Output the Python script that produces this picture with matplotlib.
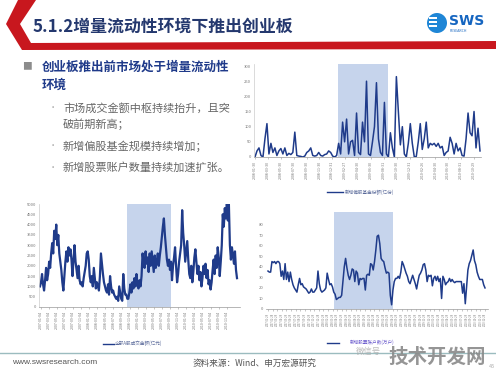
import numpy as np
import matplotlib
matplotlib.use("Agg")
import matplotlib.pyplot as plt
from matplotlib.patches import Polygon, Circle, Rectangle

plt.rcParams['font.family'] = ['Noto Sans CJK SC', 'DejaVu Sans']

# ---------------- data ----------------
fund_labels = ["2008-01-30", "2008-03-30", "2008-05-30", "2008-07-30", "2008-09-30", "2008-11-30",
               "2008-12-31", "2009-02-27", "2009-04-30", "2009-06-30", "2009-08-31", "2009-10-30",
               "2009-12-31", "2010-02-26", "2010-04-30", "2010-06-30", "2010-08-31", "2010-10-29"]
fund_values = [0, 20, 30, 5, 0, 60, 110, 10, 45, 15, 30, 5, 20, 28, 10, 30, 5, 12, 8, 15,
               82, 5, 3, 2, 0, 3, 15, 20, 30, 5, 3, 5, 15, 5, 3, 8, 10, 20, 15, 3,
               0, 5, 45, 10, 115, 50, 125, 10, 50, 55, 5, 145, 15, 8, 115, 50, 250, 10, 5, 50,
               100, 245, 60, 15, 5, 180, 10, 0, 80, 30, 0, 265, 150, 40, 100, 10, 0, 45, 110, 45,
               0, 2, 50, 110, 25, 60, 115, 30, 45, 40, 45, 35, 45, 30, 35, 5, 15, 20, 65, 45,
               10, 45, 20, 30, 5, 3, 60, 145, 80, 70, 150, 30, 95, 20]
fund_shade = (41.7, 66.8)

turn_labels = ["2007-01-04", "2007-03-04", "2007-05-04", "2007-07-04", "2007-09-04", "2007-11-04",
               "2008-01-04", "2008-03-04", "2008-05-04", "2008-07-04", "2008-09-04", "2008-11-04",
               "2009-01-04", "2009-03-04", "2009-05-04", "2009-07-04", "2009-09-04", "2009-11-04",
               "2010-01-04", "2010-03-04", "2010-05-04", "2010-07-04", "2010-09-04", "2010-11-04"]
turn_values_a = [1000, 1200, 1600, 1100, 800, 1300, 1900, 1300, 1600, 2200,
                 1900, 2600, 3100, 2600, 3700, 3300, 4000, 3000, 3500, 2600,
                 2200, 1800, 1200, 800, 1500, 2200, 2700, 2200, 2900, 2500,
                 2800, 2300, 1500, 2300, 3000, 2200, 1800, 1400, 2000, 1300,
                 1100, 1200, 1000, 1400, 1700, 2000, 2600, 2700, 2300, 1500,
                 1200, 1500, 1000, 1900, 1400, 900, 1200, 1000, 800, 1500,
                 2600, 2100, 1600, 1200, 1000, 800, 700, 1100, 600, 1500,
                 1000, 700, 800, 600, 500, 400, 500, 300, 1000, 700,
                 400, 300, 1600, 900, 600, 600, 400]
turn_values_b = [400, 700, 1100, 700, 1200, 900, 1400, 1000, 1600, 1100,
                 900, 1300, 1000, 1500, 2600, 2200, 1900, 2700, 2100, 2400,
                 1700, 2600, 2000, 2700, 2200, 1700, 2500, 1900, 2200, 2600,
                 2000, 2500, 2900, 3400, 3900, 4300, 3500, 2900, 2300, 2000,
                 2300, 1800, 2200, 1300, 2000, 2400, 2900, 2000, 1200, 1600,
                 2200, 2600, 3000, 4700, 3600, 3000, 2200, 2700, 3200, 2300,
                 1600, 1400, 2000, 1200, 1700, 2400, 2800, 2200, 1600, 2000,
                 1300, 1700, 1000, 1400, 2000, 1600, 2100, 1400, 1800, 1100,
                 1300, 850, 1200, 1800, 2300, 1600, 2500, 1900, 2900, 2400,
                 1500, 2200, 3000, 4500, 3900, 4800, 4300, 5000, 4200, 5000,
                 3000, 2300, 2900, 2500, 2100, 2700, 1800, 1400]
turn_shade = (86, 129)

acct_values = [36, 35, 35, 45, 44, 45, 43, 45, 45, 43, 31, 36, 28, 43, 28, 35, 26, 35, 28, 23,
               20, 18, 16, 23, 29, 23, 24, 21, 20, 19, 17, 15, 16, 19, 16, 16, 18, 20, 36, 24,
               18, 16, 17, 18, 20, 34, 28, 23, 24, 21, 16, 14, 9, 10, 11, 11, 13, 26, 40, 48,
               39, 32, 28, 32, 38, 37, 26, 36, 34, 23, 29, 28, 29, 29, 18, 32, 33, 32, 43, 42,
               37, 45, 56, 69, 70, 62, 48, 46, 45, 39, 34, 35, 34, 13, 4, 18, 26, 29, 29, 31,
               29, 35, 45, 42, 38, 34, 31, 26, 24, 28, 32, 28, 24, 19, 26, 32, 34, 37, 42, 43,
               37, 26, 32, 31, 32, 22, 29, 31, 27, 31, 26, 29, 10, 31, 28, 23, 25, 26, 29, 26,
               28, 26, 25, 26, 26, 26, 26, 26, 15, 24, 5, 21, 37, 43, 46, 51, 56, 46, 42, 35,
               31, 28, 28, 28, 23, 20]
acct_shade = (50, 95)
acct_labels = ["%d-%02d-28" % (y, m) for y in (2007, 2008, 2009, 2010) for m in range(1, 13)]

# ---------------- figure ----------------
W, H = 496, 371
fig = plt.figure(figsize=(W / 100, H / 100), dpi=100)
fig.patch.set_facecolor('white')


def rect(l, t, r, b):
    return [l / W, 1 - b / H, (r - l) / W, (b - t) / H]


bg = fig.add_axes([0, 0, 1, 1], zorder=0)
bg.set_xlim(0, W)
bg.set_ylim(H, 0)
bg.axis('off')

RED = '#c8171e'
# header chevron and bar
bg.add_patch(Polygon([(18, 0), (36, 0), (20, 24), (31, 43), (496, 41), (496, 49), (22, 50), (6, 24)],
                     closed=True, color=RED, lw=0))
bg.text(33, 27, "5.1.2增量流动性环境下推出创业板", fontsize=12.2, fontweight='bold',
        color='#24386e', va='center', ha='left')
# logo
bg.add_patch(Circle((437, 23), 10, color='#1f86d6', lw=0))
for yy in (18, 22, 26):
    bg.add_patch(Rectangle((429, yy - 0.8), 8, 1.6, color='white', lw=0))
bg.text(449, 21, "SWS", fontsize=10, fontweight='bold', color='#1565c0', va='center', ha='left',
        family=['DejaVu Sans'])
bg.text(450, 31, "RESEARCH", fontsize=2.5, color='#1565c0', va='center', ha='left')

# bullets
bg.text(22, 66, "■", fontsize=7, color='#8c8c8c', va='center', ha='left')
bg.text(42, 67, "创业板推出前市场处于增量流动性", fontsize=9, fontweight='bold', color='#1f3a8a', va='center')
bg.text(42, 85, "环境", fontsize=9, fontweight='bold', color='#1f3a8a', va='center')
sub = [(108, "市场成交金额中枢持续抬升，且突", True), (124, "破前期新高；", False),
       (146, "新增偏股基金规模持续增加；", True), (167, "新增股票账户数量持续加速扩张。", True)]
for yy, s, dot in sub:
    if dot:
        bg.text(49, yy, "•", fontsize=6, color='#aaaaaa', va='center')
    bg.text(63, yy, s, fontsize=8, color='#666666', va='center')

# footer
bg.plot([0, 496], [353, 353], color='#9bbcbf', lw=1)
bg.text(12, 363, "www.swsresearch.com", fontsize=6, color='#555555', va='center',
        family=['Liberation Sans'])
bg.text(193, 363, "资料来源：Wind、申万宏源研究", fontsize=6.2, color='#555555', va='center')

LINE = '#1f3b8a'
SHADE = '#c6d4ec'
TICKC = '#777777'

# ---------------- chart A ----------------
axA = fig.add_axes(rect(254, 64.2, 481, 157), zorder=2)
axA.patch.set_alpha(0)
xa = np.arange(len(fund_values))
axA.axvspan(*fund_shade, color=SHADE, lw=0, zorder=0)
axA.plot(xa, fund_values, color=LINE, lw=1.1, zorder=2)
axA.set_xlim(-0.5, len(fund_values) - 0.5)
axA.set_ylim(0, 306)
axA.set_yticks(range(0, 301, 50))
axA.set_xticks(np.linspace(0, 110, len(fund_labels)))
axA.set_xticklabels(fund_labels, rotation=90)

# ---------------- chart B ----------------
nb = len(turn_values_a) + len(turn_values_b)
turn_values = turn_values_a + turn_values_b
ppx = (237 - 40) / (nb - 1)
axB = fig.add_axes(rect(39, 204, 240, 307), zorder=2)
axB.patch.set_alpha(0)
axB.axvspan(*turn_shade, color=SHADE, lw=0, zorder=0)
axB.plot(np.arange(nb), turn_values, color=LINE, lw=1.6, zorder=2)
axB.set_xlim(-1 / ppx, 200 / ppx)
axB.set_ylim(0, 5000)
axB.set_yticks(range(0, 5001, 500))
axB.set_xticks(np.linspace(0.7 / ppx, 186.7 / ppx, len(turn_labels)))
axB.set_xticklabels(turn_labels, rotation=90)

# ---------------- chart C ----------------
nc = len(acct_values)
ppc = (485 - 268) / (nc - 1)
axC = fig.add_axes(rect(266, 212, 488, 309), zorder=2)
axC.patch.set_alpha(0)
axC.axvspan(*acct_shade, color=SHADE, lw=0, zorder=0)
axC.plot(np.arange(nc), acct_values, color=LINE, lw=1.1, zorder=2)
axC.set_xlim(-2 / ppc, 220 / ppc)
axC.set_ylim(0, 92)
axC.set_yticks(range(0, 81, 10))
axC.set_xticks(np.linspace(0, nc - 1, len(acct_labels)))
axC.set_xticklabels(acct_labels, rotation=90)

for ax, fs in ((axA, 2.6), (axB, 2.6), (axC, 1.8)):
    for s in ('top', 'right'):
        ax.spines[s].set_visible(False)
    ax.spines['left'].set_color('#cccccc')
    ax.spines['left'].set_linewidth(0.5)
    ax.spines['bottom'].set_color('#999999')
    ax.spines['bottom'].set_linewidth(0.5)
    ax.tick_params(axis='y', length=0, labelsize=3, labelcolor=TICKC, pad=2)
    ax.tick_params(axis='x', length=1.5, width=0.4, color='#999999', labelsize=fs,
                   labelcolor=TICKC, pad=1.5)
axC.spines['left'].set_visible(False)

# legends
bg2 = fig.add_axes([0, 0, 1, 1], zorder=5)
bg2.set_xlim(0, W)
bg2.set_ylim(H, 0)
bg2.axis('off')
bg2.plot([327, 343], [192, 192], color=LINE, lw=1)
bg2.text(345, 192, "新增偏股基金份额(亿份)", fontsize=3.3, color='#5a6a9a', va='center')
bg2.plot([103, 114], [343.5, 343.5], color=LINE, lw=1)
bg2.text(115, 343.5, "全部A股成交金额(亿元)", fontsize=3.3, color='#5a6a9a', va='center')
bg2.plot([327, 339], [343, 343], color=LINE, lw=1)
bg2.text(350, 342, "新增股票账户数(万户)", fontsize=3.3, color='#6a5acd', va='center')
# watermark
bg2.text(356, 351, "微信号", fontsize=6, color='#aaaaaa', va='center', alpha=0.8)
bg2.text(437, 357, "技术开发网", fontsize=14, fontweight='bold', color='#8a8a8a', va='center',
         ha='center', alpha=0.9)
bg2.text(492, 366, "45", fontsize=4, color='#aaaaaa', va='center', ha='center')

fig.savefig("out.png", dpi=100, facecolor='white')
